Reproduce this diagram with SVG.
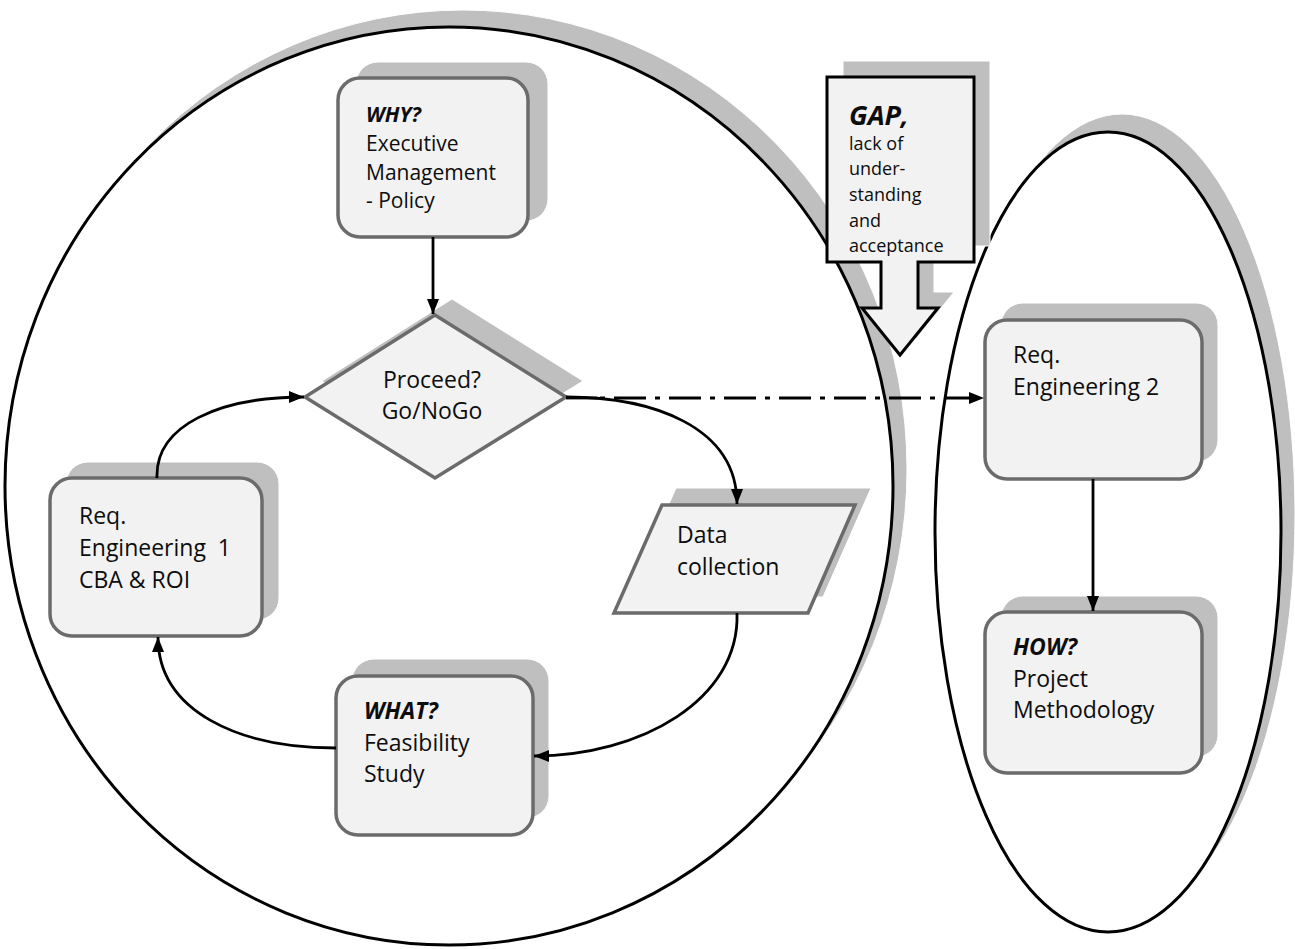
<svg xmlns="http://www.w3.org/2000/svg" width="1295" height="949" viewBox="0 0 1295 949">
<style>
.shadow{fill:#bfbfbf;stroke:#ffffff;stroke-width:1}
.box{fill:#f2f2f2;stroke:#6b6b6b;stroke-width:3.5}
.ell{fill:#ffffff;stroke:#000000;stroke-width:3}
.t{font-family:"Open Sans","Liberation Sans",sans-serif;fill:#0d0d0d}
.b{font-weight:bold;font-style:italic}
.con{fill:none;stroke:#000000;stroke-width:2.8}
</style>
<defs>
<marker id="ah" markerUnits="userSpaceOnUse" markerWidth="15" markerHeight="12" refX="15" refY="6" orient="auto">
<path d="M0,0 L15,6 L0,12 Z" fill="#000000"/>
</marker>
</defs>
<rect x="0" y="0" width="1295" height="949" fill="#ffffff"/>

<g id="left-circle">
<ellipse class="shadow" cx="463" cy="469" rx="444" ry="459"/>
<ellipse class="ell" cx="449" cy="486" rx="444" ry="459"/>
</g>
<g id="right-ellipse">
<ellipse class="shadow" cx="1122" cy="514" rx="173" ry="400"/>
<ellipse class="ell" cx="1108" cy="532" rx="173" ry="400"/>
</g>

<g id="why">
<rect class="shadow" x="356" y="62" width="192" height="159" rx="22"/>
<rect class="box" x="338" y="78" width="190" height="159" rx="22"/>
<text class="t" font-size="21"><tspan class="b" x="366" y="122">WHY?</tspan><tspan x="366" y="151">Executive</tspan><tspan x="366" y="180">Management</tspan><tspan x="366" y="208">- Policy</tspan></text>
</g>

<g id="decision">
<polygon class="shadow" points="452,299 583,381 452,462 322,381"/>
<polygon class="box" points="435,315 566,397 435,478 305,397"/>
<text class="t" font-size="23" text-anchor="middle"><tspan x="432" y="388">Proceed?</tspan><tspan x="432" y="419">Go/NoGo</tspan></text>
</g>

<g id="req1">
<rect class="shadow" x="66" y="462" width="213" height="158" rx="22"/>
<rect class="box" x="50" y="478" width="212" height="158" rx="22"/>
<text class="t" font-size="23"><tspan x="79" y="524">Req.</tspan><tspan x="79" y="556" xml:space="preserve">Engineering  1</tspan><tspan x="79" y="588">CBA &amp; ROI</tspan></text>
</g>

<g id="data">
<polygon class="shadow" points="676,488 871,488 823,597 628,597"/>
<polygon class="box" points="662,505 855,505 808,613 614,613"/>
<text class="t" font-size="23"><tspan x="677" y="543">Data</tspan><tspan x="677" y="575">collection</tspan></text>
</g>

<g id="what">
<rect class="shadow" x="352" y="659" width="197" height="159" rx="22"/>
<rect class="box" x="336" y="676" width="197" height="159" rx="22"/>
<text class="t" font-size="23"><tspan class="b" x="364" y="719">WHAT?</tspan><tspan x="364" y="751">Feasibility</tspan><tspan x="364" y="782">Study</tspan></text>
</g>

<g id="req2">
<rect class="shadow" x="1001" y="303" width="217" height="159" rx="22"/>
<rect class="box" x="985" y="320" width="217" height="159" rx="22"/>
<text class="t" font-size="23"><tspan x="1013" y="363">Req.</tspan><tspan x="1013" y="395">Engineering 2</tspan></text>
</g>

<g id="how">
<rect class="shadow" x="1001" y="596" width="217" height="161" rx="22"/>
<rect class="box" x="985" y="612" width="217" height="161" rx="22"/>
<text class="t" font-size="23"><tspan class="b" x="1013" y="655">HOW?</tspan><tspan x="1013" y="687">Project</tspan><tspan x="1013" y="718">Methodology</tspan></text>
</g>

<g id="gap">
<path class="shadow" stroke="none" d="M843,61 L990,61 L990,246 L934,246 L934,292 L954,292 L916,339 L878,292 L897,292 L897,246 L843,246 Z"/>
<path d="M827,77 L974,77 L974,262 L918,262 L918,308 L938,308 L900,355 L862,308 L881,308 L881,262 L827,262 Z" fill="#f2f2f2" stroke="#000000" stroke-width="3"/>
<text class="t"><tspan class="b" x="849" y="125" font-size="27">GAP</tspan><tspan class="b" font-size="27">,</tspan><tspan x="849" y="150" font-size="18">lack of</tspan><tspan x="849" y="175" font-size="18">under-</tspan><tspan x="849" y="201" font-size="18">standing</tspan><tspan x="849" y="227" font-size="18">and</tspan><tspan x="849" y="252" font-size="18">acceptance</tspan></text>
</g>

<g id="connectors">
<path class="con" d="M433,237 L433,314" marker-end="url(#ah)"/>
<path class="con" d="M157,478 C155,425 220,397 304,397" marker-end="url(#ah)"/>
<path class="con" d="M566,397 C650,397 737,425 737,504" marker-end="url(#ah)"/>
<path class="con" d="M737,613 C740,700 640,756 534,756" marker-end="url(#ah)"/>
<path class="con" d="M336,748 C240,748 158,712 158,637" marker-end="url(#ah)"/>
<path class="con" d="M566,398 L597,398" stroke-width="3.5"/>
<path class="con" d="M600,398 L984,398" stroke-width="3.5" stroke-dasharray="5,9,32,9" marker-end="url(#ah)"/>
<path class="con" d="M1093,479 L1093,611" marker-end="url(#ah)"/>
</g>
</svg>
